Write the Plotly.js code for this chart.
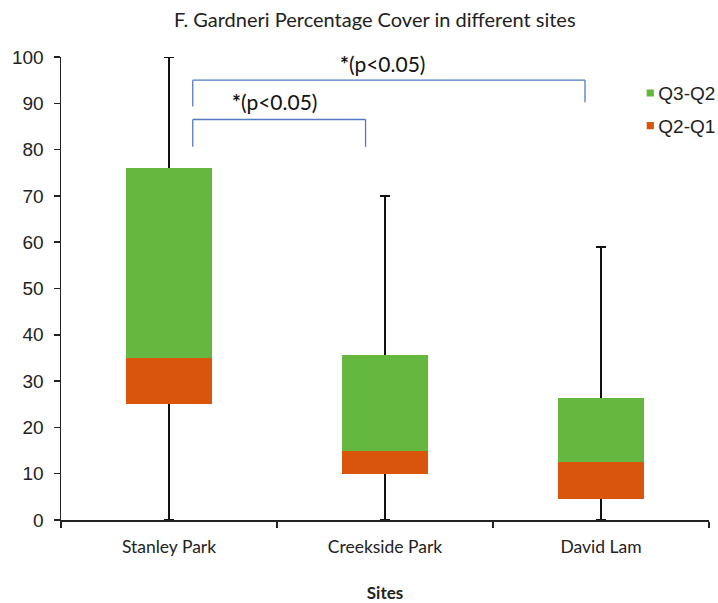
<!DOCTYPE html>
<html>
<head>
<meta charset="utf-8">
<script src="https://cdn.plot.ly/plotly-3.0.1.min.js"></script>
<style>
  html, body { margin: 0; padding: 0; background: #fff; }
  #chart { width: 718px; height: 603px; }
</style>
</head>
<body>
<div id="chart"></div>
<script>
// Percentage cover of F. gardneri per site (five-number summary)
const sites = ['Stanley Park', 'Creekside Park', 'David Lam'];
const minCover = [0, 0, 0];
const q1Cover = [25, 10, 4.5];
const medianCover = [35, 15, 12.5];
const q3Cover = [76, 35.7, 26.3];
const maxCover = [100, 70, 59];
const yTicks = [0, 10, 20, 30, 40, 50, 60, 70, 80, 90, 100];
const sigLabel = '<b>*</b>(p&lt;0.05)';

const lowerSpan = q1Cover.map((q, i) => q - minCover[i]);
const upperSpan = maxCover.map((m, i) => m - q1Cover[i]);
const q2q1 = medianCover.map((m, i) => m - q1Cover[i]);
const q3q2 = q3Cover.map((q, i) => q - medianCover[i]);

const GREEN = '#64b83f';
const ORANGE = '#d9550b';
const BRACKET = '#4f7cc0';
const HUMANIST = 'Lato, Open Sans, sans-serif';
const GROTESK = 'Liberation Sans, Arial, sans-serif';

const traces = [
  {
    // invisible base up to Q1, carrying the whiskers (min..max);
    // the stacked boxes above hide the part between Q1 and Q3
    type: 'bar', x: sites, y: q1Cover, width: 0.4,
    marker: { color: 'rgba(0,0,0,0)' },
    showlegend: false, hoverinfo: 'skip', cliponaxis: false,
    error_y: {
      type: 'data', symmetric: false,
      array: upperSpan, arrayminus: lowerSpan,
      color: '#111', thickness: 1.5, width: 5
    }
  },
  {
    type: 'bar', name: 'Q2-Q1', x: sites, y: q2q1, width: 0.4,
    marker: { color: ORANGE, line: { width: 0 } },
    legendgroup: 'lower', legendrank: 2, cliponaxis: false
  },
  {
    type: 'bar', name: 'Q3-Q2', x: sites, y: q3q2, width: 0.4,
    marker: { color: GREEN, line: { width: 0 } },
    legendgroup: 'upper', legendrank: 1, cliponaxis: false
  }
];

function bracket(xa, xb, yTop, yLeft, yRight) {
  const line = { color: BRACKET, width: 1.3 };
  return [
    { type: 'line', xref: 'x', yref: 'y', x0: xa, x1: xb, y0: yTop, y1: yTop, line },
    { type: 'line', xref: 'x', yref: 'y', x0: xa, x1: xa, y0: yTop, y1: yLeft, line },
    { type: 'line', xref: 'x', yref: 'y', x0: xb, x1: xb, y0: yTop, y1: yRight, line }
  ];
}

const layout = {
  width: 718, height: 603,
  margin: { l: 61, r: 9, t: 57, b: 83, autoexpand: false },
  paper_bgcolor: '#fff', plot_bgcolor: '#fff',
  barmode: 'stack', bargap: 0.6,
  font: { family: GROTESK, color: '#222' },
  title: {
    text: 'F. Gardneri Percentage Cover in different sites',
    font: { family: HUMANIST, size: 20, color: '#222' },
    xref: 'container', x: 0.522, xanchor: 'center',
    yref: 'container', y: 0.967, yanchor: 'middle'
  },
  xaxis: {
    type: 'category', range: [-0.5, 2.5], fixedrange: true,
    showline: true, linecolor: '#222', linewidth: 1.5,
    ticks: 'outside', tickson: 'boundaries', ticklen: 6, tickwidth: 1.5, tickcolor: '#222',
    ticklabelstandoff: 10,
    tickfont: { family: HUMANIST, size: 17.5, color: '#222' },
    showgrid: false, zeroline: false,
    title: {
      text: '<b>Sites</b>', standoff: 39,
      font: { family: HUMANIST, size: 17, color: '#222' }
    }
  },
  yaxis: {
    range: [0, 100], fixedrange: true,
    tickvals: yTicks,
    showline: true, linecolor: '#222', linewidth: 1.5,
    ticks: 'outside', ticklen: 6, tickwidth: 1.5, tickcolor: '#222',
    ticklabelstandoff: 6,
    tickfont: { family: GROTESK, size: 19, color: '#222' },
    showgrid: false, zeroline: false
  },
  legend: {
    x: 0.86, xanchor: 'left', y: 0.963, yanchor: 'top',
    traceorder: 'grouped',
    font: { family: GROTESK, size: 19, color: '#222' },
    tracegroupgap: 5, itemwidth: 30, bgcolor: 'rgba(0,0,0,0)'
  },
  shapes: [
    ...bracket(0.11, 1.926, 95.0, 89.3, 90.2),
    ...bracket(0.11, 0.91, 86.5, 80.6, 80.6)
  ],
  annotations: [
    { xref: 'x', yref: 'y', x: 0.99, y: 98.5, text: sigLabel, showarrow: false,
      font: { family: HUMANIST, size: 21, color: '#111' } },
    { xref: 'x', yref: 'y', x: 0.49, y: 90.3, text: sigLabel, showarrow: false,
      font: { family: HUMANIST, size: 21, color: '#111' } }
  ],
  hovermode: false
};

Plotly.newPlot('chart', traces, layout, { displayModeBar: false, staticPlot: true }).then(gd => {
  // small square swatches sitting right next to their labels
  gd.querySelectorAll('.legend .legendpoints path').forEach(p => {
    p.setAttribute('transform', 'translate(32,0) scale(0.6)');
  });
});
</script>
</body>
</html>
